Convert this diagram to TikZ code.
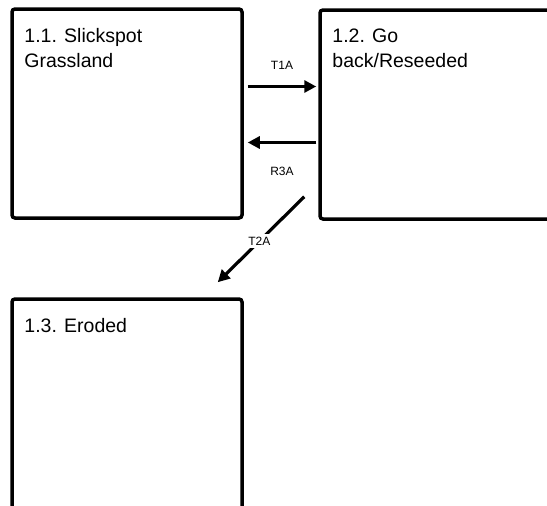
\documentclass[tikz,border=0pt]{standalone}
\usepackage{fontspec}
\setmainfont{Liberation Sans}
\usetikzlibrary{arrows.meta,calc}
\tikzset{
  statebox/.style={draw=black,line width=3.5pt,rounded corners=3pt,fill=white,inner sep=0pt},
  statetext/.style={anchor=north west,inner sep=0pt,align=left,font=\fontsize{19.5}{25}\selectfont},
  trans/.style={-{Triangle[length=12pt,width=12pt]},line width=3.2pt,draw=black},
  translab/.style={font=\fontsize{12}{14}\selectfont,inner sep=2pt}
}

\begin{document}
\begin{tikzpicture}[x=1pt,y=-1pt]
  \clip (0,0) rectangle (547,506);
  \fill[white] (0,0) rectangle (547,506);

  \node[statebox,minimum width=230pt,minimum height=209pt] (s11) at (127,113.5) {};
  \node[statebox,minimum width=240pt,minimum height=209pt] (s12) at (440,114.5) {};
  \node[statebox,minimum width=230pt,minimum height=220pt] (s13) at (127,409) {};

  \node[statetext] (t11) at ($(s11.north west)+(14,20.5)$) {1.1. Slickspot\\Grassland};
  \node[statetext] (t12) at ($(s12.north west)+(14,20.5)$) {1.2. Go\\back/Reseeded};
  \node[statetext] (t13) at ($(s13.north west)+(14,20.5)$) {1.3. Eroded};

  \draw[trans] ($(s11.east)+(4,-27)$) -- node[translab,above=13pt] {T1A} ($(s12.west)+(-2,-28)$);
  \draw[trans] ($(s12.west)+(-2,28)$) -- node[translab,below=21pt] {R3A} ($(s11.east)+(4,29)$);
  \draw[trans] ($(s12.south west)+(-14,-24)$) -- node[translab,fill=white,inner sep=3pt,pos=0.52] {T2A} ($(s13.north east)+(-26,-15)$);
\end{tikzpicture}
\end{document}
